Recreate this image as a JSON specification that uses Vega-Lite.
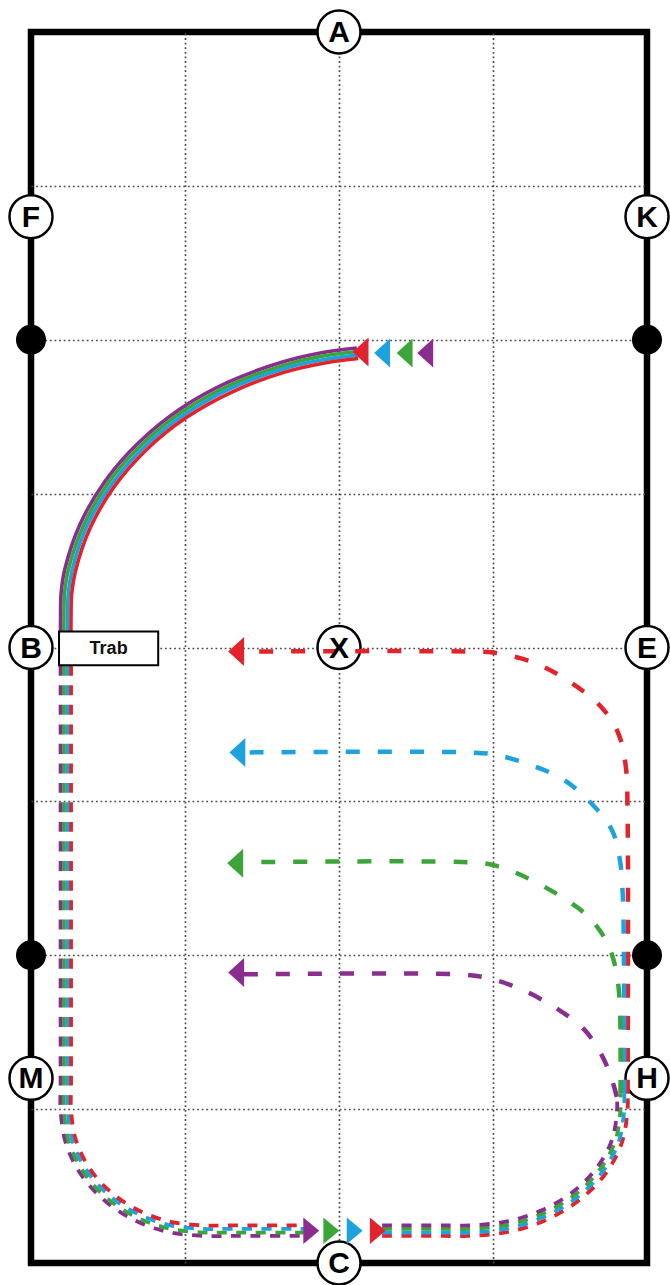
{
  "$schema": "https://vega.github.io/schema/vega-lite/v6.json",
  "width": 616,
  "height": 1231,
  "autosize": {"type": "none"},
  "padding": {"left": 31, "top": 32, "right": 23, "bottom": 22},
  "background": "white",
  "config": {
    "view": {"stroke": "black", "strokeWidth": 6.5},
    "axis": {"gridColor": "#4d4d4d", "gridDash": [1.8, 2.8], "gridWidth": 1.7, "gridOpacity": 1}
  },
  "datasets": {
    "marks": [
      {"k": "L", "t": "A", "x": 10, "y": 0},
      {"k": "L", "t": "C", "x": 10, "y": 40},
      {"k": "L", "t": "F", "x": 0, "y": 6},
      {"k": "L", "t": "K", "x": 20, "y": 6},
      {"k": "L", "t": "B", "x": 0, "y": 20},
      {"k": "L", "t": "E", "x": 20, "y": 20},
      {"k": "L", "t": "M", "x": 0, "y": 34},
      {"k": "L", "t": "H", "x": 20, "y": 34},
      {"k": "L", "t": "X", "x": 10, "y": 20},
      {"k": "D", "x": 0, "y": 10},
      {"k": "D", "x": 20, "y": 10},
      {"k": "D", "x": 0, "y": 30},
      {"k": "D", "x": 20, "y": 30},
      {"k": "T", "t": "Trab", "x": 2.52, "y": 20.03}
    ],
    "box": [{"x": 0.91, "x2": 4.13, "y": 19.48, "y2": 20.58}],
    "arrows": [
      {"d": "L", "c": "red", "x": 10.7, "y": 10.4},
      {"d": "L", "c": "blue", "x": 11.4, "y": 10.43},
      {"d": "L", "c": "green", "x": 12.13, "y": 10.43},
      {"d": "L", "c": "purple", "x": 12.8, "y": 10.43},
      {"d": "L", "c": "red", "x": 6.66, "y": 20.13},
      {"d": "L", "c": "blue", "x": 6.7, "y": 23.41},
      {"d": "L", "c": "green", "x": 6.63, "y": 27.01},
      {"d": "L", "c": "purple", "x": 6.66, "y": 30.56},
      {"d": "R", "c": "purple", "x": 9.1, "y": 38.95},
      {"d": "R", "c": "green", "x": 9.75, "y": 38.95},
      {"d": "R", "c": "blue", "x": 10.51, "y": 38.95},
      {"d": "R", "c": "red", "x": 11.26, "y": 38.95}
    ],
    "paths": [
      {"c": "purple", "s": "arc", "p": "a", "i": 0, "x": 0.96, "y": 20.55},
      {"c": "purple", "s": "arc", "p": "a", "i": 1, "x": 0.96, "y": 18.99},
      {"c": "purple", "s": "arc", "p": "a", "i": 2, "x": 0.98, "y": 18.22},
      {"c": "purple", "s": "arc", "p": "a", "i": 3, "x": 1.10, "y": 17.45},
      {"c": "purple", "s": "arc", "p": "a", "i": 4, "x": 1.60, "y": 15.98},
      {"c": "purple", "s": "arc", "p": "a", "i": 5, "x": 2.41, "y": 14.59},
      {"c": "purple", "s": "arc", "p": "a", "i": 6, "x": 3.50, "y": 13.34},
      {"c": "purple", "s": "arc", "p": "a", "i": 7, "x": 4.84, "y": 12.25},
      {"c": "purple", "s": "arc", "p": "a", "i": 8, "x": 6.40, "y": 11.38},
      {"c": "purple", "s": "arc", "p": "a", "i": 9, "x": 8.11, "y": 10.74},
      {"c": "purple", "s": "arc", "p": "a", "i": 10, "x": 9.39, "y": 10.43},
      {"c": "purple", "s": "arc", "p": "a", "i": 11, "x": 10.58, "y": 10.27},

      {"c": "green", "s": "arc", "p": "a", "i": 0, "x": 1.07, "y": 20.55},
      {"c": "green", "s": "arc", "p": "a", "i": 1, "x": 1.07, "y": 18.99},
      {"c": "green", "s": "arc", "p": "a", "i": 2, "x": 1.09, "y": 18.23},
      {"c": "green", "s": "arc", "p": "a", "i": 3, "x": 1.21, "y": 17.48},
      {"c": "green", "s": "arc", "p": "a", "i": 4, "x": 1.71, "y": 16.03},
      {"c": "green", "s": "arc", "p": "a", "i": 5, "x": 2.50, "y": 14.66},
      {"c": "green", "s": "arc", "p": "a", "i": 6, "x": 3.58, "y": 13.42},
      {"c": "green", "s": "arc", "p": "a", "i": 7, "x": 4.91, "y": 12.34},
      {"c": "green", "s": "arc", "p": "a", "i": 8, "x": 6.45, "y": 11.48},
      {"c": "green", "s": "arc", "p": "a", "i": 9, "x": 8.14, "y": 10.85},
      {"c": "green", "s": "arc", "p": "a", "i": 10, "x": 9.41, "y": 10.54},
      {"c": "green", "s": "arc", "p": "a", "i": 11, "x": 10.6, "y": 10.38},

      {"c": "blue", "s": "arc", "p": "a", "i": 0, "x": 1.19, "y": 20.55},
      {"c": "blue", "s": "arc", "p": "a", "i": 1, "x": 1.19, "y": 18.99},
      {"c": "blue", "s": "arc", "p": "a", "i": 2, "x": 1.21, "y": 18.25},
      {"c": "blue", "s": "arc", "p": "a", "i": 3, "x": 1.33, "y": 17.50},
      {"c": "blue", "s": "arc", "p": "a", "i": 4, "x": 1.81, "y": 16.07},
      {"c": "blue", "s": "arc", "p": "a", "i": 5, "x": 2.60, "y": 14.72},
      {"c": "blue", "s": "arc", "p": "a", "i": 6, "x": 3.66, "y": 13.50},
      {"c": "blue", "s": "arc", "p": "a", "i": 7, "x": 4.97, "y": 12.44},
      {"c": "blue", "s": "arc", "p": "a", "i": 8, "x": 6.49, "y": 11.58},
      {"c": "blue", "s": "arc", "p": "a", "i": 9, "x": 8.18, "y": 10.95},
      {"c": "blue", "s": "arc", "p": "a", "i": 10, "x": 9.43, "y": 10.66},
      {"c": "blue", "s": "arc", "p": "a", "i": 11, "x": 10.6, "y": 10.50},

      {"c": "red", "s": "arc", "p": "a", "i": 0, "x": 1.30, "y": 20.55},
      {"c": "red", "s": "arc", "p": "a", "i": 1, "x": 1.30, "y": 18.99},
      {"c": "red", "s": "arc", "p": "a", "i": 2, "x": 1.32, "y": 18.26},
      {"c": "red", "s": "arc", "p": "a", "i": 3, "x": 1.44, "y": 17.53},
      {"c": "red", "s": "arc", "p": "a", "i": 4, "x": 1.92, "y": 16.12},
      {"c": "red", "s": "arc", "p": "a", "i": 5, "x": 2.69, "y": 14.79},
      {"c": "red", "s": "arc", "p": "a", "i": 6, "x": 3.74, "y": 13.58},
      {"c": "red", "s": "arc", "p": "a", "i": 7, "x": 5.04, "y": 12.53},
      {"c": "red", "s": "arc", "p": "a", "i": 8, "x": 6.54, "y": 11.69},
      {"c": "red", "s": "arc", "p": "a", "i": 9, "x": 8.21, "y": 11.06},
      {"c": "red", "s": "arc", "p": "a", "i": 10, "x": 9.45, "y": 10.77},
      {"c": "red", "s": "arc", "p": "a", "i": 11, "x": 10.62, "y": 10.61},

      {"c": "purple", "s": "sh", "p": "a", "i": 0, "x": 0.96, "y": 20.6},
      {"c": "purple", "s": "sh", "p": "a", "i": 1, "x": 0.96, "y": 34.2},
      {"c": "purple", "s": "sh", "p": "a", "i": 2, "x": 0.96, "y": 35.0},
      {"c": "purple", "s": "sh", "p": "a", "i": 3, "x": 1.12, "y": 36.07},
      {"c": "purple", "s": "sh", "p": "a", "i": 4, "x": 1.58, "y": 37.06},
      {"c": "purple", "s": "sh", "p": "a", "i": 5, "x": 2.32, "y": 37.91},
      {"c": "purple", "s": "sh", "p": "a", "i": 6, "x": 3.28, "y": 38.57},
      {"c": "purple", "s": "sh", "p": "a", "i": 7, "x": 4.40, "y": 38.98},
      {"c": "purple", "s": "sh", "p": "a", "i": 8, "x": 5.60, "y": 39.12},
      {"c": "purple", "s": "sh", "p": "a", "i": 9, "x": 6.4, "y": 39.12},
      {"c": "purple", "s": "sh", "p": "a", "i": 10, "x": 9.0, "y": 39.12},

      {"c": "green", "s": "sh", "p": "a", "i": 0, "x": 1.07, "y": 20.6},
      {"c": "green", "s": "sh", "p": "a", "i": 1, "x": 1.07, "y": 34.2},
      {"c": "green", "s": "sh", "p": "a", "i": 2, "x": 1.07, "y": 35.0},
      {"c": "green", "s": "sh", "p": "a", "i": 3, "x": 1.22, "y": 36.04},
      {"c": "green", "s": "sh", "p": "a", "i": 4, "x": 1.68, "y": 37.01},
      {"c": "green", "s": "sh", "p": "a", "i": 5, "x": 2.40, "y": 37.84},
      {"c": "green", "s": "sh", "p": "a", "i": 6, "x": 3.34, "y": 38.47},
      {"c": "green", "s": "sh", "p": "a", "i": 7, "x": 4.43, "y": 38.87},
      {"c": "green", "s": "sh", "p": "a", "i": 8, "x": 5.60, "y": 39.01},
      {"c": "green", "s": "sh", "p": "a", "i": 9, "x": 6.4, "y": 39.01},
      {"c": "green", "s": "sh", "p": "a", "i": 10, "x": 9.0, "y": 39.01},

      {"c": "blue", "s": "sh", "p": "a", "i": 0, "x": 1.19, "y": 20.6},
      {"c": "blue", "s": "sh", "p": "a", "i": 1, "x": 1.19, "y": 34.2},
      {"c": "blue", "s": "sh", "p": "a", "i": 2, "x": 1.19, "y": 35.0},
      {"c": "blue", "s": "sh", "p": "a", "i": 3, "x": 1.34, "y": 36.01},
      {"c": "blue", "s": "sh", "p": "a", "i": 4, "x": 1.78, "y": 36.95},
      {"c": "blue", "s": "sh", "p": "a", "i": 5, "x": 2.48, "y": 37.75},
      {"c": "blue", "s": "sh", "p": "a", "i": 6, "x": 3.40, "y": 38.37},
      {"c": "blue", "s": "sh", "p": "a", "i": 7, "x": 4.46, "y": 38.76},
      {"c": "blue", "s": "sh", "p": "a", "i": 8, "x": 5.60, "y": 38.89},
      {"c": "blue", "s": "sh", "p": "a", "i": 9, "x": 6.4, "y": 38.89},
      {"c": "blue", "s": "sh", "p": "a", "i": 10, "x": 9.0, "y": 38.89},

      {"c": "red", "s": "sh", "p": "a", "i": 0, "x": 1.30, "y": 20.6},
      {"c": "red", "s": "sh", "p": "a", "i": 1, "x": 1.30, "y": 34.2},
      {"c": "red", "s": "sh", "p": "a", "i": 2, "x": 1.30, "y": 35.0},
      {"c": "red", "s": "sh", "p": "a", "i": 3, "x": 1.45, "y": 35.98},
      {"c": "red", "s": "sh", "p": "a", "i": 4, "x": 1.88, "y": 36.89},
      {"c": "red", "s": "sh", "p": "a", "i": 5, "x": 2.56, "y": 37.67},
      {"c": "red", "s": "sh", "p": "a", "i": 6, "x": 3.45, "y": 38.27},
      {"c": "red", "s": "sh", "p": "a", "i": 7, "x": 4.49, "y": 38.65},
      {"c": "red", "s": "sh", "p": "a", "i": 8, "x": 5.60, "y": 38.78},
      {"c": "red", "s": "sh", "p": "a", "i": 9, "x": 6.4, "y": 38.78},
      {"c": "red", "s": "sh", "p": "a", "i": 10, "x": 9.0, "y": 38.78},

      {"c": "red", "s": "sh", "p": "b", "i": 0, "x": 11.4, "y": 39.12},
      {"c": "red", "s": "sh", "p": "b", "i": 1, "x": 13.4, "y": 39.12},
      {"c": "red", "s": "sh", "p": "b", "i": 2, "x": 14.2, "y": 39.12},
      {"c": "red", "s": "sh", "p": "b", "i": 3, "x": 15.54, "y": 38.98},
      {"c": "red", "s": "sh", "p": "b", "i": 4, "x": 16.79, "y": 38.57},
      {"c": "red", "s": "sh", "p": "b", "i": 5, "x": 17.86, "y": 37.91},
      {"c": "red", "s": "sh", "p": "b", "i": 6, "x": 18.68, "y": 37.06},
      {"c": "red", "s": "sh", "p": "b", "i": 7, "x": 19.19, "y": 36.07},
      {"c": "red", "s": "sh", "p": "b", "i": 8, "x": 19.37, "y": 35.0},
      {"c": "red", "s": "sh", "p": "b", "i": 9, "x": 19.37, "y": 34.5},

      {"c": "blue", "s": "sh", "p": "b", "i": 0, "x": 11.4, "y": 39.01},
      {"c": "blue", "s": "sh", "p": "b", "i": 1, "x": 13.4, "y": 39.01},
      {"c": "blue", "s": "sh", "p": "b", "i": 2, "x": 14.2, "y": 39.01},
      {"c": "blue", "s": "sh", "p": "b", "i": 3, "x": 15.51, "y": 38.87},
      {"c": "blue", "s": "sh", "p": "b", "i": 4, "x": 16.73, "y": 38.47},
      {"c": "blue", "s": "sh", "p": "b", "i": 5, "x": 17.78, "y": 37.83},
      {"c": "blue", "s": "sh", "p": "b", "i": 6, "x": 18.58, "y": 37.00},
      {"c": "blue", "s": "sh", "p": "b", "i": 7, "x": 19.09, "y": 36.04},
      {"c": "blue", "s": "sh", "p": "b", "i": 8, "x": 19.26, "y": 35.0},
      {"c": "blue", "s": "sh", "p": "b", "i": 9, "x": 19.26, "y": 34.5},

      {"c": "green", "s": "sh", "p": "b", "i": 0, "x": 11.4, "y": 38.89},
      {"c": "green", "s": "sh", "p": "b", "i": 1, "x": 13.4, "y": 38.89},
      {"c": "green", "s": "sh", "p": "b", "i": 2, "x": 14.2, "y": 38.89},
      {"c": "green", "s": "sh", "p": "b", "i": 3, "x": 15.48, "y": 38.76},
      {"c": "green", "s": "sh", "p": "b", "i": 4, "x": 16.67, "y": 38.37},
      {"c": "green", "s": "sh", "p": "b", "i": 5, "x": 17.70, "y": 37.75},
      {"c": "green", "s": "sh", "p": "b", "i": 6, "x": 18.48, "y": 36.95},
      {"c": "green", "s": "sh", "p": "b", "i": 7, "x": 18.98, "y": 36.01},
      {"c": "green", "s": "sh", "p": "b", "i": 8, "x": 19.14, "y": 35.0},
      {"c": "green", "s": "sh", "p": "b", "i": 9, "x": 19.14, "y": 34.5},

      {"c": "purple", "s": "sh", "p": "b", "i": 0, "x": 11.4, "y": 38.78},
      {"c": "purple", "s": "sh", "p": "b", "i": 1, "x": 13.4, "y": 38.78},
      {"c": "purple", "s": "sh", "p": "b", "i": 2, "x": 14.2, "y": 38.78},
      {"c": "purple", "s": "sh", "p": "b", "i": 3, "x": 15.45, "y": 38.65},
      {"c": "purple", "s": "sh", "p": "b", "i": 4, "x": 16.62, "y": 38.27},
      {"c": "purple", "s": "sh", "p": "b", "i": 5, "x": 17.62, "y": 37.67},
      {"c": "purple", "s": "sh", "p": "b", "i": 6, "x": 18.38, "y": 36.89},
      {"c": "purple", "s": "sh", "p": "b", "i": 7, "x": 18.87, "y": 35.98},
      {"c": "purple", "s": "sh", "p": "b", "i": 8, "x": 19.03, "y": 35.0},
      {"c": "purple", "s": "sh", "p": "b", "i": 9, "x": 19.02, "y": 34.6},

      {"c": "red", "s": "so", "p": "c", "i": 0, "x": 19.37, "y": 34.5},
      {"c": "red", "s": "so", "p": "c", "i": 1, "x": 19.37, "y": 25.5},
      {"c": "red", "s": "so", "p": "c", "i": 2, "x": 19.31, "y": 23.85},
      {"c": "red", "s": "so", "p": "c", "i": 3, "x": 19.06, "y": 22.77},
      {"c": "red", "s": "so", "p": "c", "i": 4, "x": 18.5, "y": 21.92},
      {"c": "red", "s": "so", "p": "c", "i": 5, "x": 17.5, "y": 21.12},
      {"c": "red", "s": "so", "p": "c", "i": 6, "x": 16.35, "y": 20.5},
      {"c": "red", "s": "so", "p": "c", "i": 7, "x": 15.05, "y": 20.17},
      {"c": "red", "s": "so", "p": "c", "i": 8, "x": 14.2, "y": 20.13},
      {"c": "red", "s": "so", "p": "c", "i": 9, "x": 6.9, "y": 20.13},

      {"c": "blue", "s": "so", "p": "c", "i": 0, "x": 19.26, "y": 34.5},
      {"c": "blue", "s": "so", "p": "c", "i": 1, "x": 19.24, "y": 29.0},
      {"c": "blue", "s": "so", "p": "c", "i": 2, "x": 19.2, "y": 27.8},
      {"c": "blue", "s": "so", "p": "c", "i": 3, "x": 19.12, "y": 26.9},
      {"c": "blue", "s": "so", "p": "c", "i": 4, "x": 18.86, "y": 25.93},
      {"c": "blue", "s": "so", "p": "c", "i": 5, "x": 18.15, "y": 25.02},
      {"c": "blue", "s": "so", "p": "c", "i": 6, "x": 17.3, "y": 24.3},
      {"c": "blue", "s": "so", "p": "c", "i": 7, "x": 16.35, "y": 23.86},
      {"c": "blue", "s": "so", "p": "c", "i": 8, "x": 15.05, "y": 23.48},
      {"c": "blue", "s": "so", "p": "c", "i": 9, "x": 14.2, "y": 23.41},
      {"c": "blue", "s": "so", "p": "c", "i": 10, "x": 6.9, "y": 23.41},

      {"c": "green", "s": "so", "p": "c", "i": 0, "x": 19.14, "y": 34.5},
      {"c": "green", "s": "so", "p": "c", "i": 1, "x": 19.13, "y": 32.0},
      {"c": "green", "s": "so", "p": "c", "i": 2, "x": 19.06, "y": 30.9},
      {"c": "green", "s": "so", "p": "c", "i": 3, "x": 18.9, "y": 30.1},
      {"c": "green", "s": "so", "p": "c", "i": 4, "x": 18.63, "y": 29.45},
      {"c": "green", "s": "so", "p": "c", "i": 5, "x": 18.1, "y": 28.75},
      {"c": "green", "s": "so", "p": "c", "i": 6, "x": 17.3, "y": 28.15},
      {"c": "green", "s": "so", "p": "c", "i": 7, "x": 16.03, "y": 27.45},
      {"c": "green", "s": "so", "p": "c", "i": 8, "x": 15.05, "y": 27.08},
      {"c": "green", "s": "so", "p": "c", "i": 9, "x": 14.2, "y": 26.98},
      {"c": "green", "s": "so", "p": "c", "i": 10, "x": 6.9, "y": 26.98},

      {"c": "purple", "s": "so", "p": "c", "i": 0, "x": 19.02, "y": 34.6},
      {"c": "purple", "s": "so", "p": "c", "i": 1, "x": 18.88, "y": 34.1},
      {"c": "purple", "s": "so", "p": "c", "i": 2, "x": 18.72, "y": 33.65},
      {"c": "purple", "s": "so", "p": "c", "i": 3, "x": 18.45, "y": 33.1},
      {"c": "purple", "s": "so", "p": "c", "i": 4, "x": 17.95, "y": 32.4},
      {"c": "purple", "s": "so", "p": "c", "i": 5, "x": 17.1, "y": 31.75},
      {"c": "purple", "s": "so", "p": "c", "i": 6, "x": 15.9, "y": 31.1},
      {"c": "purple", "s": "so", "p": "c", "i": 7, "x": 14.75, "y": 30.72},
      {"c": "purple", "s": "so", "p": "c", "i": 8, "x": 13.8, "y": 30.62},
      {"c": "purple", "s": "so", "p": "c", "i": 9, "x": 6.9, "y": 30.62}
    ]
  },
  "encoding": {
    "x": {"field": "x", "type": "quantitative", "scale": {"domain": [0, 20], "nice": false, "zero": false},
      "axis": {"values": [5, 10, 15], "grid": true, "labels": false, "ticks": false, "domain": false, "title": null}},
    "y": {"field": "y", "type": "quantitative", "scale": {"domain": [0, 40], "nice": false, "zero": false, "reverse": true},
      "axis": {"values": [5, 10, 15, 20, 25, 30, 35], "grid": true, "labels": false, "ticks": false, "domain": false, "title": null}}
  },
  "layer": [
    {
      "data": {"name": "marks"},
      "transform": [{"filter": "datum.k === 'L'"}],
      "mark": {"type": "point", "shape": "circle", "filled": true, "color": "white", "stroke": "black", "strokeWidth": 2.5, "size": 1850, "opacity": 1}
    },
    {
      "data": {"name": "marks"},
      "transform": [{"filter": "datum.k === 'D'"}],
      "mark": {"type": "circle", "color": "black", "size": 900, "opacity": 1}
    },
    {
      "data": {"name": "paths"},
      "transform": [{"filter": "datum.s === 'arc'"}],
      "mark": {"type": "line", "strokeWidth": 3.6, "interpolate": "catmull-rom"},
      "encoding": {
        "color": {"field": "c", "type": "nominal", "legend": null,
          "scale": {"domain": ["purple", "green", "blue", "red"], "range": ["#8b2c8f", "#3ba53a", "#1da1df", "#e2232b"]}},
        "order": {"field": "i", "type": "quantitative"}
      }
    },
    {
      "data": {"name": "paths"},
      "transform": [{"filter": "datum.s === 'sh'"}],
      "mark": {"type": "line", "strokeWidth": 3.8, "strokeDash": [10, 9.5], "interpolate": "catmull-rom"},
      "encoding": {
        "color": {"field": "c", "type": "nominal", "legend": null,
          "scale": {"domain": ["purple", "green", "blue", "red"], "range": ["#8b2c8f", "#3ba53a", "#1da1df", "#e2232b"]}},
        "detail": {"field": "p"},
        "order": {"field": "i", "type": "quantitative"}
      }
    },
    {
      "data": {"name": "paths"},
      "transform": [{"filter": "datum.s === 'so'"}],
      "mark": {"type": "line", "strokeWidth": 4.5, "strokeDash": [14, 18], "interpolate": "catmull-rom"},
      "encoding": {
        "color": {"field": "c", "type": "nominal", "legend": null,
          "scale": {"domain": ["purple", "green", "blue", "red"], "range": ["#8b2c8f", "#3ba53a", "#1da1df", "#e2232b"]}},
        "order": {"field": "i", "type": "quantitative"}
      }
    },
    {
      "data": {"name": "arrows"},
      "transform": [{"filter": "datum.d === 'L'"}],
      "mark": {"type": "point", "shape": "M-0.55,0L0.55,-1L0.55,1Z", "filled": true, "size": 840, "opacity": 1, "strokeWidth": 0},
      "encoding": {
        "color": {"field": "c", "type": "nominal", "legend": null,
          "scale": {"domain": ["purple", "green", "blue", "red"], "range": ["#8b2c8f", "#3ba53a", "#1da1df", "#e2232b"]}}
      }
    },
    {
      "data": {"name": "arrows"},
      "transform": [{"filter": "datum.d === 'R'"}],
      "mark": {"type": "point", "shape": "M0.6,0L-0.6,-1L-0.6,1Z", "filled": true, "size": 700, "opacity": 1, "strokeWidth": 0},
      "encoding": {
        "color": {"field": "c", "type": "nominal", "legend": null,
          "scale": {"domain": ["purple", "green", "blue", "red"], "range": ["#8b2c8f", "#3ba53a", "#1da1df", "#e2232b"]}}
      }
    },
    {
      "data": {"name": "box"},
      "mark": {"type": "rect", "fill": "white", "stroke": "black", "strokeWidth": 2},
      "encoding": {
        "x2": {"field": "x2"},
        "y2": {"field": "y2"}
      }
    },
    {
      "data": {"name": "marks"},
      "transform": [{"filter": "datum.k === 'T'"}],
      "mark": {"type": "text", "font": "Liberation Sans", "fontWeight": "bold", "fontSize": 18, "color": "#111111", "align": "center", "baseline": "middle", "dy": 1},
      "encoding": {"text": {"field": "t"}}
    },
    {
      "data": {"name": "marks"},
      "transform": [{"filter": "datum.k === 'L'"}],
      "mark": {"type": "text", "font": "Liberation Sans", "fontWeight": "bold", "fontSize": 30, "color": "black", "align": "center", "baseline": "middle", "dy": 1},
      "encoding": {"text": {"field": "t"}}
    }
  ]
}
